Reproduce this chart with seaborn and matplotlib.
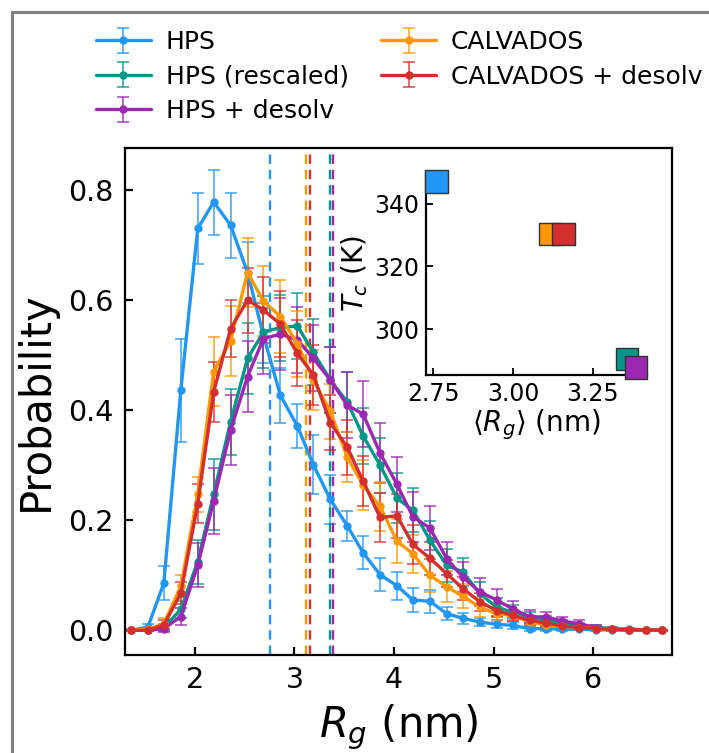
import matplotlib
matplotlib.use("Agg")
import matplotlib.pyplot as plt
from matplotlib.patches import Rectangle
import seaborn as sns
import numpy as np
import pandas as pd

# bin centres of the Rg histogram (nm)
rg_bins = [1.36, 1.53, 1.69, 1.86, 2.03, 2.19, 2.36, 2.53, 2.69, 2.86, 3.03,
           3.19, 3.36, 3.53, 3.69, 3.86, 4.03, 4.19, 4.36, 4.53, 4.69, 4.86,
           5.03, 5.19, 5.36, 5.53, 5.69, 5.86, 6.03, 6.19, 6.36, 6.53, 6.69]

models = ["HPS", "HPS (rescaled)", "HPS + desolv", "CALVADOS", "CALVADOS + desolv"]
colors = ["#2196F3", "#009688", "#9C27B0", "#FF9800", "#D32F2F"]

p_hps = [0.0, 0.006, 0.086, 0.436, 0.73, 0.778, 0.736, 0.65, 0.535, 0.427, 0.371,
         0.301, 0.238, 0.19, 0.141, 0.101, 0.081, 0.055, 0.053, 0.030, 0.022, 0.015,
         0.011, 0.009, 0.003, 0.003, 0.002, 0.002, 0.001, 0.001, 0.0, 0.0, 0.0]
e_hps = [0.002, 0.006, 0.031, 0.094, 0.064, 0.059, 0.059, 0.055, 0.05, 0.05, 0.04,
         0.053, 0.045, 0.027, 0.03, 0.03, 0.025, 0.022, 0.021, 0.012, 0.01, 0.008,
         0.007, 0.006, 0.004, 0.004, 0.003, 0.002, 0.002, 0.001, 0.001, 0.001, 0.0]

p_resc = [0.0, 0.0, 0.005, 0.038, 0.125, 0.247, 0.379, 0.494, 0.542, 0.55, 0.553,
          0.505, 0.455, 0.415, 0.353, 0.30, 0.24, 0.218, 0.164, 0.118, 0.106, 0.067,
          0.042, 0.033, 0.024, 0.018, 0.012, 0.008, 0.005, 0.003, 0.002, 0.001, 0.0]
e_resc = [0.001, 0.002, 0.006, 0.015, 0.04, 0.064, 0.06, 0.065, 0.065, 0.06, 0.06,
          0.06, 0.06, 0.055, 0.05, 0.05, 0.045, 0.04, 0.035, 0.03, 0.025, 0.02,
          0.016, 0.013, 0.01, 0.008, 0.007, 0.005, 0.004, 0.003, 0.002, 0.001, 0.001]

p_desolv = [0.0, 0.0, 0.003, 0.025, 0.118, 0.235, 0.364, 0.461, 0.53, 0.538, 0.528,
            0.494, 0.455, 0.409, 0.393, 0.322, 0.265, 0.206, 0.186, 0.13, 0.097, 0.07,
            0.055, 0.039, 0.025, 0.024, 0.017, 0.012, 0.005, 0.002, 0.001, 0.001, 0.0]
e_desolv = [0.001, 0.002, 0.006, 0.015, 0.04, 0.06, 0.064, 0.065, 0.065, 0.065, 0.06,
            0.06, 0.06, 0.06, 0.06, 0.055, 0.05, 0.045, 0.04, 0.03, 0.028, 0.025,
            0.02, 0.015, 0.012, 0.01, 0.008, 0.006, 0.004, 0.003, 0.002, 0.001, 0.001]

p_calv = [0.0, 0.002, 0.012, 0.08, 0.247, 0.47, 0.526, 0.65, 0.598, 0.57, 0.521,
          0.455, 0.398, 0.315, 0.264, 0.225, 0.162, 0.139, 0.10, 0.079, 0.062, 0.042,
          0.030, 0.027, 0.015, 0.01, 0.008, 0.005, 0.003, 0.002, 0.001, 0.001, 0.0]
e_calv = [0.001, 0.003, 0.01, 0.02, 0.032, 0.063, 0.064, 0.062, 0.064, 0.066, 0.06,
          0.055, 0.05, 0.045, 0.045, 0.045, 0.04, 0.035, 0.03, 0.028, 0.022, 0.018,
          0.013, 0.01, 0.008, 0.006, 0.005, 0.004, 0.003, 0.002, 0.001, 0.001, 0.0]

p_calv_ds = [0.0, 0.0, 0.01, 0.067, 0.23, 0.433, 0.548, 0.6, 0.582, 0.556, 0.503,
             0.464, 0.377, 0.333, 0.271, 0.205, 0.208, 0.156, 0.131, 0.103, 0.076, 0.052,
             0.036, 0.027, 0.018, 0.013, 0.008, 0.005, 0.003, 0.002, 0.001, 0.001, 0.0]
e_calv_ds = [0.001, 0.002, 0.008, 0.02, 0.035, 0.055, 0.052, 0.059, 0.06, 0.06, 0.06,
             0.055, 0.05, 0.05, 0.045, 0.045, 0.04, 0.035, 0.03, 0.025, 0.02, 0.016,
             0.012, 0.01, 0.008, 0.006, 0.005, 0.004, 0.003, 0.002, 0.001, 0.001, 0.0]

# inset: mean Rg vs critical temperature
mean_rg = [2.76, 3.357, 3.385, 3.115, 3.158]
tc = [347.1, 290.5, 287.7, 330.4, 330.4]

probs = [p_hps, p_resc, p_desolv, p_calv, p_calv_ds]
errs = [e_hps, e_resc, e_desolv, e_calv, e_calv_ds]

sns.set_theme(style="ticks")
plt.rcParams.update({
    'font.family': ['DejaVu Sans'],
    'mathtext.fontset': 'dejavusans',
    'text.color': 'black',
    'axes.labelcolor': 'black',
    'axes.edgecolor': 'black',
    'axes.linewidth': 1.6,
    'xtick.direction': 'in',
    'ytick.direction': 'in',
    'xtick.color': 'black',
    'ytick.color': 'black',
})

fig = plt.figure(figsize=(7.09, 7.53), dpi=100)
fig.patch.set_facecolor('white')
ax = fig.add_axes([0.1763, 0.130, 0.7715, 0.6733])

for name, col, p, e, m in zip(models, colors, probs, errs, mean_rg):
    cont = ax.errorbar(rg_bins, p, yerr=e, fmt='-o', color=col, lw=2.4,
                       markersize=5, capsize=4, elinewidth=1.3,
                       capthick=1.3, label=name)
    for art in cont[2]:
        art.set_alpha(0.75)
    for cap in cont[1]:
        cap.set_alpha(0.75)
    ax.axvline(m, color=col, ls='--', lw=1.7, dashes=(4, 2.5))

ax.set_xlim(1.30, 6.79)
ax.set_ylim(-0.045, 0.876)
ax.set_xticks([2, 3, 4, 5, 6])
ax.set_yticks([0.0, 0.2, 0.4, 0.6, 0.8])
ax.set_yticklabels(["0.0", "0.2", "0.4", "0.6", "0.8"])
ax.tick_params(labelsize=20.5, length=6, width=1.6, pad=8)
ax.set_xlabel("$R_g$ (nm)", fontsize=30, labelpad=6)
ax.set_ylabel("Probability", fontsize=30, labelpad=8)

fig.legend(loc='upper left', bbox_to_anchor=(0.103, 0.99), ncol=2,
           frameon=False, fontsize=18, handlelength=2.2,
           columnspacing=1.3, labelspacing=0.42, handletextpad=0.6)

# inset axes
ins = fig.add_axes([0.601, 0.502, 0.311, 0.270])
inset_df = pd.DataFrame({"Model": models, "Rg": mean_rg, "Tc": tc})
sns.scatterplot(data=inset_df, x="Rg", y="Tc", hue="Model", palette=colors,
                marker='s', s=260, edgecolor='#333333', linewidth=1.0,
                legend=False, ax=ins, zorder=3, clip_on=False)
ins.set_xlim(2.727, 3.419)
ins.set_ylim(285.3, 350.3)
ins.set_xticks([2.75, 3.00, 3.25])
ins.set_xticklabels(["2.75", "3.00", "3.25"])
ins.set_yticks([300, 320, 340])
ins.spines['top'].set_visible(False)
ins.spines['right'].set_visible(False)
ins.tick_params(labelsize=17, length=5, width=1.3, pad=5)
ins.set_xlabel(r"$\langle R_g \rangle$ (nm)", fontsize=20, labelpad=1)
ins.set_ylabel("$T_c$ (K)", fontsize=20, labelpad=3)
ins.set_facecolor('none')

# grey frame around the figure
frame = Rectangle((12 / 709, -0.1), 1.2, 1 - 12 / 753 + 0.1,
                  transform=fig.transFigure, fill=False,
                  edgecolor='#808080', lw=2.2, clip_on=False)
fig.patches.append(frame)

fig.savefig("out.png", dpi=100)
